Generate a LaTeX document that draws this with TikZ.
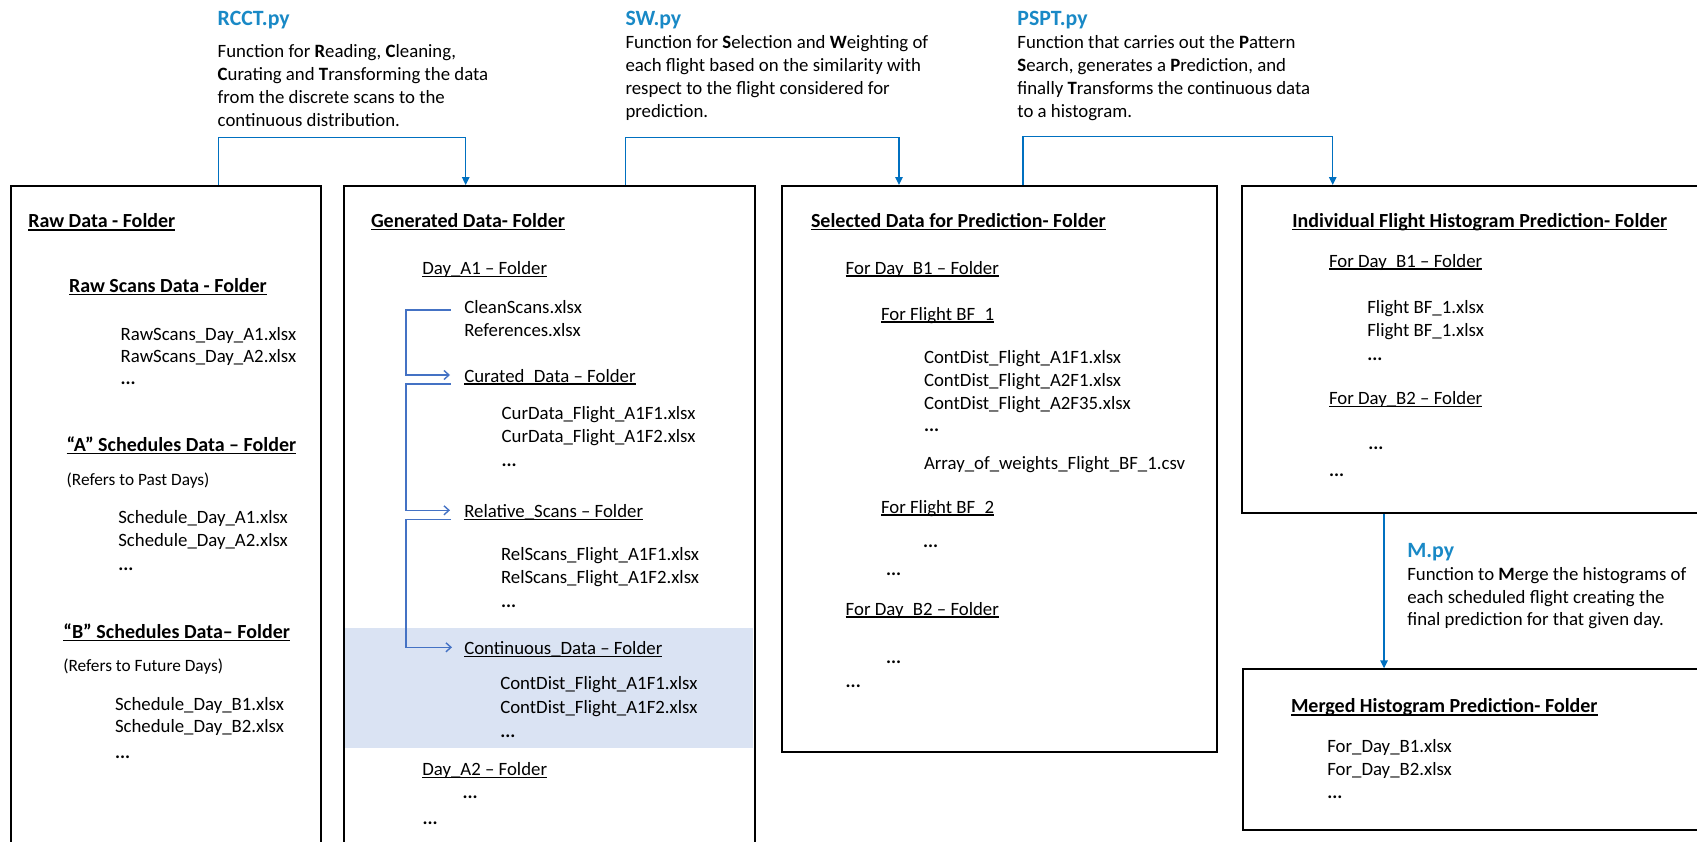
\documentclass[tikz,border=0pt]{standalone}
\usepackage{fontspec}
\setmainfont{Carlito}
\usetikzlibrary{arrows.meta}
\definecolor{ttlblue}{RGB}{25,137,198}
\definecolor{cnblue}{RGB}{0,112,192}
\definecolor{brblue}{RGB}{68,114,196}
\definecolor{bandblue}{RGB}{218,227,243}
\newsavebox\ulbox
\newcommand\ulx[1]{\sbox\ulbox{#1}\rlap{\rule[-0.14em]{\wd\ulbox}{0.065em}}\usebox\ulbox}
\newcommand\fbody{\fontsize{18.8bp}{22.7bp}\selectfont}
\newcommand\fhead{\fontsize{20bp}{24bp}\selectfont\bfseries}
\newcommand\fsmall{\fontsize{17.3bp}{21bp}\selectfont}
\newcommand\fttl{\fontsize{21.8bp}{25bp}\selectfont\bfseries}
\tikzset{
 txt/.style={anchor=base west, inner sep=0pt, outer sep=0pt, font=\fbody},
 head/.style={txt, font=\fhead},
 stxt/.style={txt, font=\fsmall},
 ttl/.style={txt, font=\fttl, text=ttlblue},
 dots/.style={txt, font=\fbody\bfseries},
 box/.style={draw=black, line width=1.9bp, anchor=north west, inner sep=0pt},
 conn/.style={draw=cnblue, line width=1.4bp, -{Triangle[length=8bp,width=7.5bp]}},
 brk/.style={draw=brblue, line width=1.4bp, -{Straight Barb[length=5bp,width=9bp]}},
}
\newcommand\tx[5][txt]{\node[#1] (#2) at (#3,#4) {#5};}
\begin{document}
\begin{tikzpicture}[x=1bp,y=-1bp]
\useasboundingbox (0,0) rectangle (1697,842);
\clip (0,0) rectangle (1697,842);
% band
\fill[bandblue] (343.7,628.3) rectangle (753,747.7);
% boxes
\node[box, minimum width=310bp, minimum height=720bp] (raw) at (10,185) {};
\node[box, minimum width=411.3bp, minimum height=720bp] (gen) at (342.7,185) {};
\node[box, minimum width=435.3bp, minimum height=566bp] (sel) at (780.7,185) {};
\node[box, minimum width=480bp, minimum height=327.3bp] (ind) at (1240.7,185) {};
\node[box, minimum width=480bp, minimum height=161bp] (mrg) at (1241.7,668.3) {};
% top function descriptions
\tx[ttl]{rcct}{217.7}{25.3}{RCCT.py}
\tx{rcct1}{217.7}{57.7}{Function for \textbf{R}eading, \textbf{C}leaning,}
\tx{rcct2}{217.7}{80}{\textbf{C}urating and \textbf{T}ransforming the data}
\tx{rcct3}{217.7}{103.3}{from the discrete scans to the}
\tx{rcct4}{217.7}{126}{continuous distribution.}
\tx[ttl]{sw}{625.5}{25.3}{SW.py}
\tx{sw1}{625.5}{48.3}{Function for \textbf{S}election and \textbf{W}eighting of}
\tx{sw2}{625.5}{71}{each flight based on the similarity with}
\tx{sw3}{625.5}{94.3}{respect to the flight considered for}
\tx{sw4}{625.5}{117.7}{prediction.}
\tx[ttl]{pspt}{1017.4}{25.3}{PSPT.py}
\tx{pspt1}{1017.4}{48.3}{Function that carries out the \textbf{P}attern}
\tx{pspt2}{1017.4}{71}{\textbf{S}earch, generates a \textbf{P}rediction, and}
\tx{pspt3}{1017.4}{94.3}{finally \textbf{T}ransforms the continuous data}
\tx{pspt4}{1017.4}{117.7}{to a histogram.}
\tx[ttl]{mpy}{1407.3}{557}{M.py}
\tx{mpy1}{1407.3}{580}{Function to \textbf{M}erge the histograms of}
\tx{mpy2}{1407.3}{603.3}{each scheduled flight creating the}
\tx{mpy3}{1407.3}{625}{final prediction for that given day.}
% raw box
\tx[head]{rtitle}{28.3}{227.7}{\ulx{Raw Data - Folder}}
\tx[head]{rscan}{69}{292}{\ulx{Raw Scans Data - Folder}}
\tx{rsa1}{120.7}{340}{RawScans\_Day\_A1.xlsx}
\tx{rsa2}{120.7}{362.7}{RawScans\_Day\_A2.xlsx}
\tx[dots]{rsad}{120.7}{384.8}{...}
\tx[head]{asch}{66.7}{451}{\ulx{“A” Schedules Data – Folder}}
\tx[stxt]{apast}{66.7}{485.3}{(Refers to Past Days)}
\tx{sa1}{118.3}{523.7}{Schedule\_Day\_A1.xlsx}
\tx{sa2}{118.3}{546.7}{Schedule\_Day\_A2.xlsx}
\tx[dots]{sad}{118.3}{570.5}{...}
\tx[head]{bsch}{63.3}{638}{\ulx{“B” Schedules Data– Folder}}
\tx[stxt]{bfut}{63.3}{671}{(Refers to Future Days)}
\tx{sb1}{115}{710}{Schedule\_Day\_B1.xlsx}
\tx{sb2}{115}{732.7}{Schedule\_Day\_B2.xlsx}
\tx[dots]{sbd}{115}{758.2}{...}
% generated box
\tx[head]{gtitle}{371}{227}{\ulx{Generated Data- Folder}}
\tx{daya1}{422.3}{274.3}{\ulx{Day\_A1 – Folder}}
\tx{clean}{464.3}{313.3}{CleanScans.xlsx}
\tx{refs}{464.3}{336}{References.xlsx}
\tx{cur}{464.3}{382}{\ulx{Curated\_Data – Folder}}
\tx{cd1}{501.7}{419.3}{CurData\_Flight\_A1F1.xlsx}
\tx{cd2}{501.7}{442.7}{CurData\_Flight\_A1F2.xlsx}
\tx[dots]{cdd}{501.7}{466.5}{...}
\tx{rel}{464.3}{517.3}{\ulx{Relative\_Scans – Folder}}
\tx{rs1}{501}{560.3}{RelScans\_Flight\_A1F1.xlsx}
\tx{rs2}{501}{583.3}{RelScans\_Flight\_A1F2.xlsx}
\tx[dots]{rsd}{501}{607.5}{...}
\tx{cont}{464.3}{654.3}{\ulx{Continuous\_Data – Folder}}
\tx{cn1}{500.3}{689.3}{ContDist\_Flight\_A1F1.xlsx}
\tx{cn2}{500.3}{713.3}{ContDist\_Flight\_A1F2.xlsx}
\tx[dots]{cnd}{500.3}{737.5}{...}
\tx{daya2}{422.3}{775.3}{\ulx{Day\_A2 – Folder}}
\tx[dots]{a2d}{462.7}{798.2}{...}
\tx[dots]{gd}{422.7}{824.8}{...}
% selected box
\tx[head]{stitle}{811}{227}{\ulx{Selected Data for Prediction- Folder}}
\tx{sd1}{845.7}{274}{\ulx{For Day\_B1 – Folder}}
\tx{sf1}{881}{320}{\ulx{For Flight BF\_1}}
\tx{c1}{924}{363}{ContDist\_Flight\_A1F1.xlsx}
\tx{c2}{924}{386}{ContDist\_Flight\_A2F1.xlsx}
\tx{c3}{924}{409}{ContDist\_Flight\_A2F35.xlsx}
\tx[dots]{cdots}{924}{431.5}{...}
\tx{aw}{924}{469.5}{Array\_of\_weights\_Flight\_BF\_1.csv}
\tx{sf2}{881}{513}{\ulx{For Flight BF\_2}}
\tx[dots]{sf2d}{923}{547.5}{...}
\tx[dots]{sd1d}{886}{575}{...}
\tx{sd2}{845.7}{615}{\ulx{For Day\_B2 – Folder}}
\tx[dots]{sd2d}{886}{663}{...}
\tx[dots]{sdd}{845.7}{687.5}{...}
% individual box
\tx[head]{ititle}{1292.3}{227}{\ulx{Individual Flight Histogram Prediction- Folder}}
\tx{id1}{1329}{267}{\ulx{For Day\_B1 – Folder}}
\tx{if1}{1367.3}{313.3}{Flight BF\_1.xlsx}
\tx{if2}{1367.3}{336}{Flight BF\_1.xlsx}
\tx[dots]{ifd}{1367.3}{360.8}{...}
\tx{id2}{1329}{404.3}{\ulx{For Day\_B2 – Folder}}
\tx[dots]{id2d}{1368.3}{449.8}{...}
\tx[dots]{idd}{1329}{476.5}{...}
% merged box
\tx[head]{mtitle}{1291}{712.7}{\ulx{Merged Histogram Prediction- Folder}}
\tx{m1}{1327.3}{752.7}{For\_Day\_B1.xlsx}
\tx{m2}{1327.3}{775.3}{For\_Day\_B2.xlsx}
\tx[dots]{md}{1327.3}{798.2}{...}
% connectors between folders
\draw[conn] (218.3,0 |- raw.north) -- (218.3,137.7) -| (465.7,0 |- gen.north);
\draw[conn] (625.5,0 |- gen.north) -- (625.5,137.7) -| (899,0 |- sel.north);
\draw[conn] (1023,0 |- sel.north) -- (1023,136.7) -| (1332.7,0 |- ind.north);
\draw[conn] (1384,0 |- ind.south) -- (1384,0 |- mrg.north);
% brackets inside generated box
\coordinate (b1s) at ([xshift=-13.6bp,yshift=3.3bp]clean.base west);
\coordinate (b1e) at ([xshift=-14.3bp,yshift=7bp]cur.base west);
\coordinate (b2s) at ([xshift=-13.6bp,yshift=-2bp]cur.base west);
\coordinate (b2e) at ([xshift=-14.3bp,yshift=7bp]rel.base west);
\coordinate (b3s) at ([xshift=-13.3bp,yshift=-2bp]rel.base west);
\coordinate (b3e) at ([xshift=-12.3bp,yshift=7bp]cont.base west);
\draw[brk] (b1s) -| (406,0 |- b1e) -- (b1e);
\draw[brk] (b2s) -| (406,0 |- b2e) -- (b2e);
\draw[brk] (b3s) -| (406,0 |- b3e) -- (b3e);
\end{tikzpicture}
\end{document}
